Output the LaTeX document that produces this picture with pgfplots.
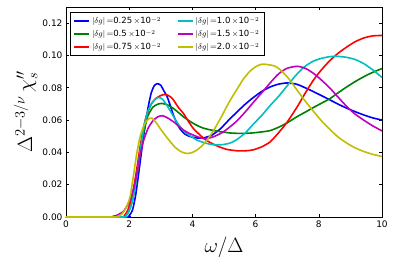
\documentclass[border=0pt]{standalone}
\usepackage{pgfplots}
\pgfplotsset{compat=1.18}
\usepackage{fontspec}
\setsansfont{DejaVu Sans}
\definecolor{mb}{rgb}{0,0,1}
\definecolor{mg}{rgb}{0,0.5,0}
\definecolor{mr}{rgb}{1,0,0}
\definecolor{mc}{rgb}{0,0.75,0.75}
\definecolor{mm}{rgb}{0.75,0,0.75}
\definecolor{my}{rgb}{0.75,0.75,0}
\newcommand{\dglab}[1]{\rule[-2.5pt]{0pt}{10pt}$|\delta g|$\,=\textsf{#1}\,$\times$\textsf{10}$^{-2}$}
\begin{document}
\begin{tikzpicture}
\begin{axis}[
  name=ax,
  scale only axis,
  width=316pt, height=210pt,
  xmin=0, xmax=10, ymin=0, ymax=0.13,
  xtick={0,2,4,6,8,10},
  ytick={0,0.02,0.04,0.06,0.08,0.10,0.12},
  tick align=inside,
  major tick length=3pt,
  minor tick num=0,
  axis line style={line width=0.8pt},
  every tick/.style={black, line width=0.6pt},
  /pgf/number format/assume math mode=true,
  xticklabel style={font=\sffamily\fontsize{9}{10}\selectfont},
  yticklabel style={font=\sffamily\fontsize{9}{10}\selectfont, /pgf/number format/fixed, /pgf/number format/fixed zerofill, /pgf/number format/precision=2},
  scaled y ticks=false,
  xlabel={$\omega/\Delta$},
  ylabel={$\Delta^{2-3/\nu}\,\chi_s''$},
  xlabel style={font=\fontsize{22}{26}\selectfont, at={(axis description cs:0.5,-0.143)}, anchor=center},
  ylabel style={font=\fontsize{22}{26}\selectfont, at={(axis description cs:-0.128,0.5)}, anchor=center},
  transpose legend,
  legend columns=3,
  legend cell align=left,
  legend style={at={(axis description cs:0.0127,0.976)}, anchor=north west, draw=black, line width=0.8pt, font=\fontsize{8.5}{10}\selectfont, inner xsep=3pt, inner ysep=2pt, /tikz/every even column/.append style={column sep=14pt}},
  legend image code/.code={\draw[#1, line width=1.6pt] (0pt,0pt) -- (15pt,0pt);},
  every axis plot/.append style={line width=1.6pt, smooth, tension=0.4},
]
% blue 0.25
\addplot[mb] coordinates {(0,0) (1.9,0) (2.0,0.001) (2.1,0.004) (2.2,0.013) (2.3,0.027) (2.4,0.042) (2.5,0.056) (2.6,0.068) (2.7,0.077) (2.8,0.0815) (2.9,0.0825) (3.0,0.0815) (3.1,0.078) (3.2,0.0745) (3.3,0.069) (3.4,0.063) (3.5,0.0585) (3.6,0.0548) (3.75,0.0515) (3.9,0.0500) (4.1,0.0490) (4.35,0.0490) (4.6,0.0505) (4.88,0.0545) (5.15,0.060) (5.41,0.065) (5.67,0.0698) (5.93,0.0740) (6.2,0.0778) (6.46,0.0805) (6.72,0.0822) (7.0,0.0830) (7.3,0.0822) (7.57,0.0800) (7.84,0.0775) (8.1,0.075) (8.36,0.0724) (8.62,0.0698) (8.89,0.0673) (9.15,0.0652) (9.42,0.0632) (9.7,0.0614) (10,0.0600)};
% green 0.5
\addplot[mg] coordinates {(0,0) (1.8,0) (1.9,0.001) (2.0,0.004) (2.1,0.010) (2.2,0.020) (2.3,0.033) (2.4,0.046) (2.5,0.056) (2.6,0.063) (2.75,0.068) (2.9,0.0698) (3.03,0.0703) (3.2,0.0695) (3.4,0.0672) (3.55,0.0648) (3.72,0.0620) (3.88,0.0598) (4.03,0.0579) (4.2,0.0562) (4.35,0.0550) (4.55,0.0540) (4.77,0.0532) (5.0,0.0525) (5.2,0.0520) (5.41,0.0518) (5.7,0.0518) (5.93,0.0521) (6.2,0.0527) (6.46,0.0535) (6.72,0.0555) (6.99,0.0582) (7.31,0.0621) (7.58,0.0650) (7.84,0.0679) (8.1,0.0706) (8.36,0.0734) (8.62,0.0770) (8.89,0.0806) (9.15,0.0838) (9.42,0.0868) (9.7,0.0895) (10,0.0919)};
% red 0.75
\addplot[mr] coordinates {(0,0) (1.75,0) (1.85,0.001) (1.95,0.004) (2.05,0.010) (2.15,0.019) (2.25,0.031) (2.35,0.044) (2.45,0.055) (2.55,0.063) (2.7,0.070) (2.85,0.0735) (3.0,0.0752) (3.15,0.0759) (3.3,0.0745) (3.4,0.0725) (3.55,0.068) (3.72,0.064) (3.88,0.059) (4.03,0.0548) (4.2,0.0515) (4.35,0.0488) (4.5,0.0468) (4.67,0.0450) (4.88,0.0432) (5.1,0.0418) (5.41,0.0410) (5.7,0.0410) (5.93,0.0416) (6.2,0.0435) (6.46,0.0465) (6.72,0.0520) (6.99,0.0585) (7.31,0.0680) (7.58,0.0770) (7.84,0.0850) (8.1,0.0915) (8.36,0.0970) (8.62,0.1015) (8.89,0.1053) (9.15,0.1085) (9.42,0.1108) (9.7,0.1121) (10,0.1124)};
% cyan 1.0
\addplot[mc] coordinates {(0,0) (1.8,0) (1.9,0.001) (2.0,0.004) (2.1,0.010) (2.2,0.020) (2.3,0.034) (2.4,0.048) (2.5,0.059) (2.6,0.066) (2.75,0.0715) (2.92,0.0740) (3.05,0.0730) (3.19,0.0692) (3.35,0.0640) (3.5,0.0590) (3.65,0.0550) (3.82,0.0517) (4.0,0.0494) (4.14,0.0476) (4.3,0.0465) (4.46,0.0455) (4.62,0.0449) (4.77,0.0446) (4.95,0.0448) (5.2,0.0458) (5.41,0.0480) (5.67,0.0520) (5.93,0.0575) (6.2,0.0630) (6.46,0.0690) (6.72,0.0745) (6.99,0.0810) (7.31,0.0885) (7.58,0.0935) (7.84,0.0966) (8.1,0.0983) (8.36,0.0993) (8.58,0.0995) (8.89,0.0988) (9.15,0.0975) (9.42,0.0950) (9.7,0.0912) (10,0.0864)};
% magenta 1.5
\addplot[mm] coordinates {(0,0) (1.4,0) (1.5,0.0005) (1.6,0.001) (1.7,0.002) (1.82,0.0035) (1.95,0.0075) (2.05,0.012) (2.13,0.0167) (2.25,0.027) (2.34,0.038) (2.45,0.047) (2.6,0.055) (2.75,0.0595) (2.9,0.0620) (3.05,0.0627) (3.2,0.0615) (3.4,0.0590) (3.55,0.0565) (3.72,0.0538) (3.88,0.0520) (4.03,0.0507) (4.2,0.0494) (4.35,0.0486) (4.5,0.0487) (4.67,0.0497) (4.82,0.0510) (4.98,0.0527) (5.2,0.0560) (5.41,0.0595) (5.67,0.0650) (5.93,0.0710) (6.2,0.0770) (6.46,0.0830) (6.72,0.0885) (6.99,0.0920) (7.31,0.0933) (7.58,0.0920) (7.84,0.0888) (8.1,0.0845) (8.36,0.0796) (8.62,0.0740) (8.89,0.0683) (9.15,0.0637) (9.42,0.0600) (9.7,0.0565) (10,0.0533)};
% yellow 2.0
\addplot[my] coordinates {(0,0) (1.55,0) (1.65,0.0005) (1.75,0.0015) (1.85,0.004) (1.95,0.008) (2.03,0.0126) (2.13,0.025) (2.24,0.0394) (2.35,0.050) (2.45,0.0558) (2.55,0.0595) (2.64,0.0610) (2.72,0.0612) (2.85,0.0585) (2.98,0.0548) (3.15,0.0503) (3.3,0.0466) (3.45,0.0432) (3.61,0.0408) (3.75,0.0396) (3.88,0.0394) (4.0,0.0400) (4.14,0.0414) (4.3,0.0440) (4.46,0.0476) (4.62,0.0520) (4.77,0.0569) (4.93,0.0625) (5.09,0.0685) (5.25,0.0740) (5.41,0.0790) (5.6,0.0850) (5.8,0.0898) (6.0,0.0930) (6.2,0.0946) (6.4,0.0943) (6.6,0.0935) (6.78,0.0912) (6.99,0.0870) (7.15,0.0830) (7.31,0.0786) (7.58,0.0715) (7.84,0.0652) (8.1,0.0592) (8.36,0.0540) (8.62,0.0494) (8.89,0.0457) (9.15,0.0428) (9.42,0.0406) (9.7,0.0388) (10,0.0375)};
\legend{\dglab{0.25},\dglab{0.5},\dglab{0.75},\dglab{1.0},\dglab{1.5},\dglab{2.0}}
\end{axis}
\pgfresetboundingbox
\path[use as bounding box] (ax.south west) ++(-66pt,-49pt) rectangle ++(394pt,266pt);
\end{tikzpicture}
\end{document}
